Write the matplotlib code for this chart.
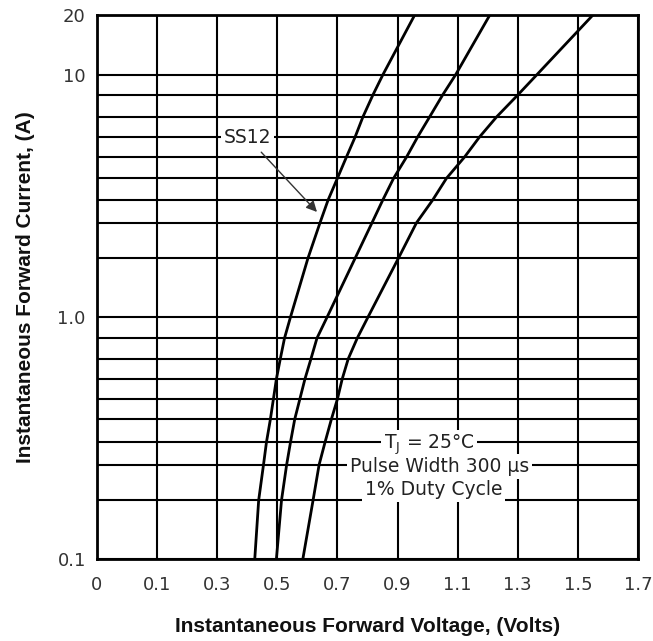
import matplotlib
matplotlib.use('Agg')
import matplotlib.pyplot as plt
import numpy as np

# x axis: ticks are evenly spaced on the sheet although the values are not
x_ticks = [0, 0.1, 0.3, 0.5, 0.7, 0.9, 1.1, 1.3, 1.5, 1.7]
x_tick_labels = ['0', '0.1', '0.3', '0.5', '0.7', '0.9', '1.1', '1.3', '1.5', '1.7']

# y axis: grid rows of the sheet and where they sit (fraction of the axis height)
y_grid = [0.1, 0.2, 0.3, 0.4, 0.5, 0.6, 0.7, 0.8, 0.9,
          1, 2, 3, 4, 5, 6, 7, 8, 9, 10, 20]
y_grid_frac = [0.0, 0.108, 0.173, 0.215, 0.257, 0.294, 0.331, 0.368, 0.406,
               0.445, 0.553, 0.618, 0.660, 0.700, 0.739, 0.776, 0.813, 0.853, 0.890, 1.0]
y_major = [0.1, 1, 10, 20]
y_major_labels = ['0.1', '1.0', '10', '20']

# forward current (A) and the voltage read for each curve
current = [0.1, 0.2, 0.3, 0.4, 0.5, 0.6, 0.7, 0.8, 0.9,
           1, 2, 3, 4, 5, 6, 7, 8, 9, 10, 20]
v_ss12 = [0.425, 0.438, 0.454, 0.464, 0.477, 0.487, 0.497, 0.510, 0.524, 0.544,
          0.602, 0.642, 0.669, 0.700, 0.730, 0.759, 0.785, 0.818, 0.851, 0.957]
v_mid = [0.497, 0.514, 0.531, 0.544, 0.558, 0.575, 0.592, 0.612, 0.632, 0.666,
         0.759, 0.815, 0.851, 0.887, 0.930, 0.967, 1.007, 1.050, 1.093, 1.207]
v_right = [0.585, 0.619, 0.639, 0.659, 0.680, 0.700, 0.716, 0.736, 0.766, 0.802,
           0.903, 0.963, 1.017, 1.063, 1.123, 1.173, 1.230, 1.300, 1.363, 1.550]

x_pos = np.arange(len(x_ticks), dtype=float)
log_grid = np.log10(y_grid)
frac_grid = np.array(y_grid_frac)


def x_fwd(v):
    return np.interp(v, x_ticks, x_pos)


def x_inv(p):
    return np.interp(p, x_pos, x_ticks)


def y_fwd(y):
    y = np.clip(np.asarray(y, dtype=float), 1e-6, None)
    return np.interp(np.log10(y), log_grid, frac_grid)


def y_inv(f):
    return 10 ** np.interp(f, frac_grid, log_grid)


fig = plt.figure(figsize=(6.53, 6.41), dpi=100)
ax = fig.add_axes([0.1485, 0.128, 0.8285, 0.8485])

ax.set_xscale('function', functions=(x_fwd, x_inv))
ax.set_yscale('function', functions=(y_fwd, y_inv))

for v in (v_ss12, v_mid, v_right):
    ax.plot(v, current, color='black', lw=2.0, zorder=2)

ax.set_xlim(0, 1.7)
ax.set_ylim(0.1, 20)

ax.set_xticks(x_ticks)
ax.set_xticklabels(x_tick_labels)
ax.set_yticks(y_major)
ax.set_yticklabels(y_major_labels)
ax.set_yticks([v for v in y_grid if v not in y_major], minor=True)
ax.set_xticks([], minor=True)
ax.tick_params(axis='both', which='both', length=0, labelsize=13,
               labelcolor='#333333')
ax.tick_params(axis='x', pad=12)
ax.tick_params(axis='y', pad=8)

ax.set_axisbelow(True)
ax.grid(True, which='both', color='black', lw=1.5)
for s in ax.spines.values():
    s.set_linewidth(2)
    s.set_color('black')

ax.set_xlabel('Instantaneous Forward Voltage, (Volts)', fontsize=15,
              fontweight='bold', family='Liberation Sans', color='#111111',
              labelpad=17)
ax.set_ylabel('Instantaneous Forward Current, (A)', fontsize=15,
              fontweight='bold', family='Liberation Sans', color='#111111',
              labelpad=16)

ax.annotate('SS12', xy=(0.632, 3.44), xytext=(0.402, 6.95),
            fontsize=13.5, color='#222222', ha='center', va='center',
            bbox=dict(fc='white', ec='none', pad=2),
            arrowprops=dict(arrowstyle='-|>', color='#333333', lw=1,
                            mutation_scale=16, shrinkA=2, shrinkB=0),
            zorder=4)

box = dict(fc='white', ec='none', pad=2)
ax.text(1.005, 0.385, r'T$_\mathregular{J}$ = 25°C', fontsize=13.5,
        color='#222222', ha='center', va='center', bbox=box, zorder=4)
ax.text(1.04, 0.295, 'Pulse Width 300 µs', fontsize=13.5,
        color='#222222', ha='center', va='center', bbox=box, zorder=4)
ax.text(1.02, 0.225, '1% Duty Cycle', fontsize=13.5,
        color='#222222', ha='center', va='center', bbox=box, zorder=4)

fig.savefig('out.png', dpi=100)
